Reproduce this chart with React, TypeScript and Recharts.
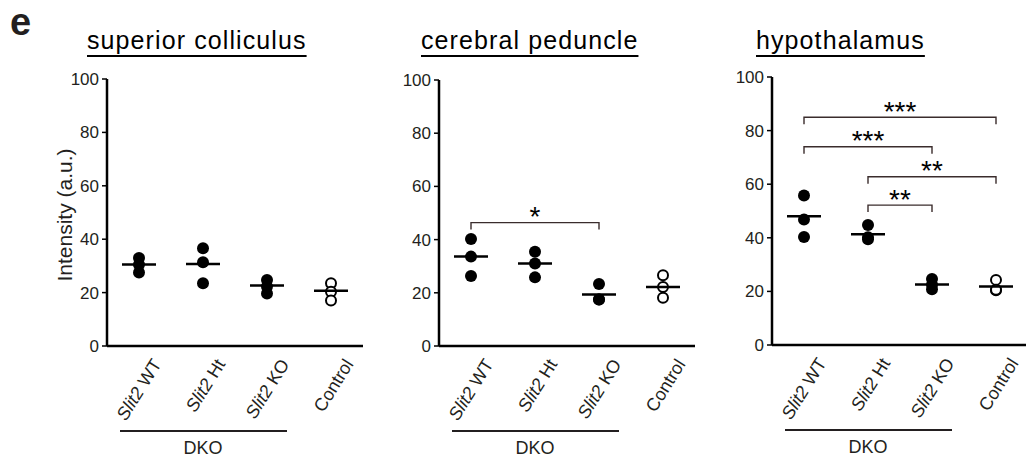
import React from 'react';
import { ScatterChart, Scatter, XAxis, YAxis } from 'recharts';

// groups along the x axis
const GROUPS = ['Slit2 WT', 'Slit2 Ht', 'Slit2 KO', 'Control'];
const Y_TICKS = [0, 20, 40, 60, 80, 100];

// superior colliculus
const SC_WT = [33, 30.5, 27.5];
const SC_HT = [36.6, 31.4, 23.5];
const SC_KO = [24.7, 22.3, 19.7];
const SC_CTRL = [23.5, 20.3, 17];
const SC_MEANS = [30.5, 30.7, 22.7, 20.7];

// cerebral peduncle
const CP_WT = [40.2, 33.6, 26.3];
const CP_HT = [35.4, 31, 25.8];
const CP_KO = [23.3, 17.5, 17.5];
const CP_CTRL = [26.6, 22.2, 18.1];
const CP_MEANS = [33.6, 31, 19.4, 22.2];
const CP_BRACKETS = [{ from: 0, to: 2, height: 46.4, label: '*' }];

// hypothalamus
const HY_WT = [55.8, 46.8, 40.3];
const HY_HT = [44.8, 39.5, 40.2];
const HY_KO = [24.6, 22.5, 20.8];
const HY_CTRL = [24.3, 20.4, 20.6];
const HY_MEANS = [48, 41.3, 22.6, 21.8];
const HY_BRACKETS = [
  { from: 0, to: 3, height: 85, label: '***' },
  { from: 0, to: 2, height: 74, label: '***' },
  { from: 1, to: 3, height: 62.8, label: '**' },
  { from: 1, to: 2, height: 52.2, label: '**' },
];

const INK = '#231f20';
const FONT = 'Arial, "Liberation Sans", Helvetica, sans-serif';
const BRACKET_DROP = 2.6;
const STAR_GAP = 4.6;

type Bracket = { from: number; to: number; height: number; label: string };

const GroupTick = (props: any) => {
  const { x, y, payload } = props;
  const name: string = GROUPS[payload.value] ?? '';
  const italic = name.startsWith('Slit2');
  return (
    <g>
      <g transform={`translate(${x + 23},${y + 18})`}>
        <text textAnchor="end" transform="rotate(-58)" fontSize={18} fill={INK} fontFamily={FONT}>
          {italic ? (
            <>
              <tspan fontStyle="italic">Slit2</tspan>
              <tspan>{' ' + name.slice(6)}</tspan>
            </>
          ) : (
            name
          )}
        </text>
      </g>
      {payload.value === 1 && (
        <g>
          <line x1={x - 83} x2={x + 84} y1={y + 85} y2={y + 85} stroke={INK} strokeWidth={2} />
          <text x={x} y={y + 108} textAnchor="middle" fontSize={18} fill={INK} fontFamily={FONT}>
            DKO
          </text>
        </g>
      )}
    </g>
  );
};

const Dot = (props: any) => <circle cx={props.cx} cy={props.cy} r={6} fill="#000" />;
const OpenDot = (props: any) => (
  <circle cx={props.cx} cy={props.cy} r={5} fill="#fff" stroke="#000" strokeWidth={2} />
);
const MeanBar = (props: any) => (
  <line x1={props.cx - 17} x2={props.cx + 17} y1={props.cy} y2={props.cy} stroke="#000" strokeWidth={2.5} />
);
const Star = (props: any) => (
  <text
    x={props.cx}
    y={props.cy + 16}
    textAnchor="middle"
    fontSize={28}
    fill="#000"
    fontFamily={FONT}
  >
    {props.payload.label}
  </text>
);
const Nothing = () => <g />;

interface PanelProps {
  groups: number[][];
  means: number[];
  brackets: Bracket[];
  top: number;
  axisHeight: number;
}

function Panel({ groups, means, brackets, top, axisHeight }: PanelProps) {
  const meanData = means.map((m, i) => ({ x: i, y: m }));
  return (
    <ScatterChart width={373} height={466} margin={{ top, right: 10, bottom: 0, left: 0 }}>
      <XAxis
        type="number"
        dataKey="x"
        domain={[-0.5, 3.5]}
        ticks={[0, 1, 2, 3]}
        interval={0}
        height={axisHeight}
        tickLine={false}
        tickSize={0}
        tickMargin={0}
        axisLine={{ stroke: '#000', strokeWidth: 2.5 }}
        tick={<GroupTick />}
      />
      <YAxis
        type="number"
        dataKey="y"
        domain={[0, 100]}
        ticks={Y_TICKS}
        width={107}
        tickSize={5}
        tickMargin={3}
        axisLine={{ stroke: '#000', strokeWidth: 2.5 }}
        tickLine={{ stroke: '#000', strokeWidth: 1.5 }}
        tick={{ fill: INK, fontSize: 17, fontFamily: FONT }}
      />
      {brackets.map((b, i) => (
        <Scatter
          key={`br-${i}`}
          data={[
            { x: b.from, y: b.height - BRACKET_DROP },
            { x: b.from, y: b.height },
            { x: b.to, y: b.height },
            { x: b.to, y: b.height - BRACKET_DROP },
          ]}
          line={{ stroke: '#3a2c2c', strokeWidth: 1.4 }}
          shape={<Nothing />}
          isAnimationActive={false}
        />
      ))}
      {brackets.map((b, i) => (
        <Scatter
          key={`st-${i}`}
          data={[{ x: (b.from + b.to) / 2, y: b.height + STAR_GAP, label: b.label }]}
          shape={<Star />}
          isAnimationActive={false}
        />
      ))}
      {groups.map((vals, gi) => (
        <Scatter
          key={`g-${gi}`}
          data={vals.map((v) => ({ x: gi, y: v }))}
          shape={gi === 3 ? <OpenDot /> : <Dot />}
          isAnimationActive={false}
        />
      ))}
      <Scatter data={meanData} shape={<MeanBar />} isAnimationActive={false} />
    </ScatterChart>
  );
}

const titleStyle: React.CSSProperties = {
  position: 'absolute',
  top: 28,
  fontSize: 25,
  lineHeight: '25px',
  letterSpacing: 1.1,
  color: '#000',
  whiteSpace: 'nowrap',
  textDecoration: 'underline',
  textDecorationThickness: 2,
  textUnderlineOffset: 6,
};

export default function App() {
  return (
    <div
      style={{
        position: 'absolute',
        left: 0,
        top: 0,
        width: 1026,
        height: 466,
        overflow: 'hidden',
        background: '#fff',
        fontFamily: FONT,
      }}
    >
      <div style={{ position: 'absolute', left: 10, top: 4, fontSize: 38, lineHeight: '36px', fontWeight: 700, color: INK }}>
        e
      </div>
      <div style={{ ...titleStyle, left: 87 }}>superior colliculus</div>
      <div style={{ ...titleStyle, left: 421 }}>cerebral peduncle</div>
      <div style={{ ...titleStyle, left: 756 }}>hypothalamus</div>
      <div
        style={{
          position: 'absolute',
          left: 65 - 100,
          top: 215 - 12,
          width: 200,
          height: 24,
          lineHeight: '24px',
          textAlign: 'center',
          fontSize: 21,
          color: INK,
          transform: 'rotate(-90deg)',
          whiteSpace: 'nowrap',
        }}
      >
        Intensity (a.u.)
      </div>
      <div style={{ position: 'absolute', left: 0, top: 0 }}>
        <Panel groups={[SC_WT, SC_HT, SC_KO, SC_CTRL]} means={SC_MEANS} brackets={[]} top={79} axisHeight={120} />
      </div>
      <div style={{ position: 'absolute', left: 332, top: 0 }}>
        <Panel groups={[CP_WT, CP_HT, CP_KO, CP_CTRL]} means={CP_MEANS} brackets={CP_BRACKETS} top={80} axisHeight={120} />
      </div>
      <div style={{ position: 'absolute', left: 665, top: 0 }}>
        <Panel groups={[HY_WT, HY_HT, HY_KO, HY_CTRL]} means={HY_MEANS} brackets={HY_BRACKETS} top={77} axisHeight={121} />
      </div>
    </div>
  );
}
